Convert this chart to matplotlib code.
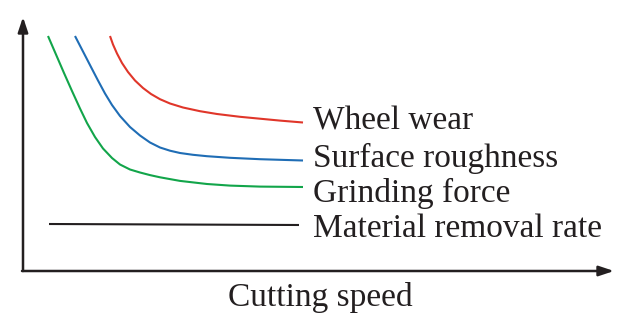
import matplotlib
matplotlib.use("Agg")
import matplotlib.pyplot as plt

# Values (x: cutting speed, y: response), origin at axes corner
red_x = [87, 90, 94, 99, 105, 112, 120, 128, 137, 147, 160, 177, 194, 217, 237, 257, 280]
red_y = [235, 226.5, 217.5, 208, 199, 190.5, 183, 177, 171.8, 167.5, 163.5, 159.8, 157, 154.2, 152.3, 150.4, 148.5]

blue_x = [52, 60, 68, 75, 82, 89, 97, 107, 117, 127, 137, 147, 157, 170, 184, 207, 237, 280]
blue_y = [235, 219.5, 204, 190.5, 177.5, 166, 155, 144, 135.5, 128.5, 123.5, 120.3, 118, 116.2, 114.8, 113.2, 111.8, 110.5]

green_x = [25, 33, 41, 49, 57, 64, 72, 80, 89, 97, 107, 117, 127, 137, 157, 184, 207, 237, 280]
green_y = [235, 216.5, 198, 180, 162.5, 148, 134, 122.5, 113, 106.5, 101.5, 98.5, 95.9, 93.7, 90.1, 87, 85.4, 84.4, 84]

black_x = [26, 276]
black_y = [47, 46]

labels = ["Wheel wear", "Surface roughness", "Grinding force", "Material removal rate"]
label_y = [141, 104, 69, 34]
colors = ["#e0362a", "#1f6db5", "#12a54a", "#231f20"]

plt.rcParams['font.family'] = ['Liberation Serif', 'DejaVu Serif']

fig = plt.figure(figsize=(6.33, 3.28), dpi=100)
ax = fig.add_axes([0, 0, 1, 1])
ax.set_xlim(-23, 610)
ax.set_ylim(-57, 271)
ax.axis('off')

lw = 1.5
for xs, ys, c in [(red_x, red_y, colors[0]), (blue_x, blue_y, colors[1]),
                  (green_x, green_y, colors[2]), (black_x, black_y, colors[3])]:
    ax.plot(xs, ys, color=c, lw=lw, solid_capstyle='butt', solid_joinstyle='round')

for lab, yv in zip(labels, label_y):
    ax.text(290, yv, lab, fontsize=24, color='#231f20', va='baseline', ha='left')

ax.text(297, -35, "Cutting speed", fontsize=24, color='#231f20', va='baseline', ha='center')

arrow_kw = dict(arrowstyle='-|>,head_length=0.9,head_width=0.3', lw=1.8, color='#231f20',
                shrinkA=0, shrinkB=0)
ax.annotate('', xy=(0, 254), xytext=(0, 0), arrowprops=arrow_kw)
ax.annotate('', xy=(591, 0), xytext=(-1, 0), arrowprops=arrow_kw)

fig.savefig("out.png", dpi=100)
